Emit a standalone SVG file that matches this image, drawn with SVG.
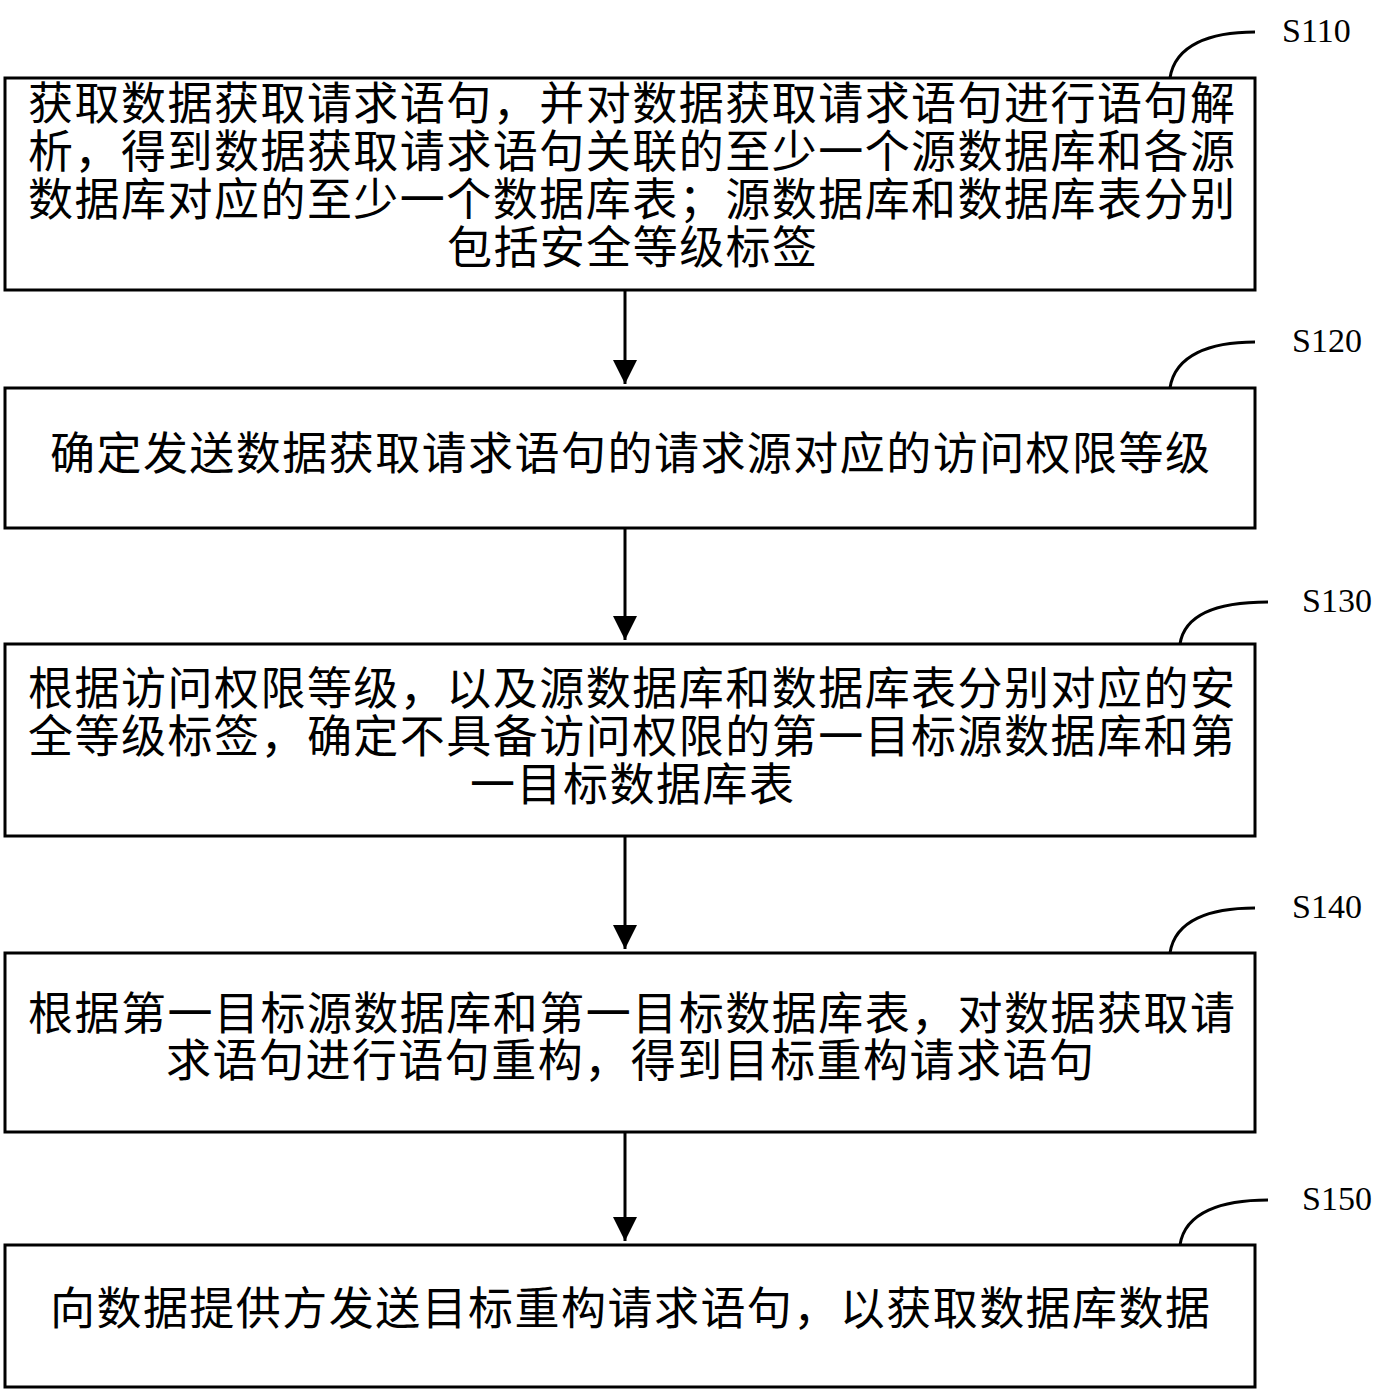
<svg xmlns="http://www.w3.org/2000/svg" width="1395" height="1391" viewBox="0 0 1395 1391">
<style>
.b{fill:#fff;stroke:#000;stroke-width:3}
.t{font-family:"Noto Sans CJK SC","Noto Sans",sans-serif;font-size:45px;fill:#000}
.m{text-anchor:middle}
.l{font-family:"Liberation Serif",serif;font-size:34px;fill:#000}
.c{fill:none;stroke:#000;stroke-width:3}
</style>
<defs>
<marker id="h" viewBox="0 0 10 10" markerWidth="24" markerHeight="30" refX="10" refY="5" orient="auto" markerUnits="userSpaceOnUse"><path d="M0,0 L10,5 L0,10 Z"/></marker></defs>
<g id="n1"><rect class="b" x="5" y="78" width="1250" height="212"/>
<text class="t" x="28" y="120" textLength="1207" lengthAdjust="spacing">获取数据获取请求语句，并对数据获取请求语句进行语句解</text>
<text class="t" x="28" y="168" textLength="1207" lengthAdjust="spacing">析，得到数据获取请求语句关联的至少一个源数据库和各源</text>
<text class="t" x="28" y="216" textLength="1207" lengthAdjust="spacing">数据库对应的至少一个数据库表；源数据库和数据库表分别</text>
<text class="t" x="447" y="264" textLength="370" lengthAdjust="spacing">包括安全等级标签</text></g>
<g id="n2"><rect class="b" x="5" y="388" width="1250" height="140"/>
<text class="t" x="50" y="470" textLength="1160" lengthAdjust="spacing">确定发送数据获取请求语句的请求源对应的访问权限等级</text></g>
<g id="n3"><rect class="b" x="5" y="644" width="1250" height="192"/>
<text class="t" x="28" y="705" textLength="1207" lengthAdjust="spacing">根据访问权限等级，以及源数据库和数据库表分别对应的安</text>
<text class="t" x="28" y="753" textLength="1207" lengthAdjust="spacing">全等级标签，确定不具备访问权限的第一目标源数据库和第</text>
<text class="t" x="470" y="801" textLength="324" lengthAdjust="spacing">一目标数据库表</text></g>
<g id="n4"><rect class="b" x="5" y="953" width="1250" height="179"/>
<text class="t" x="28" y="1030" textLength="1207" lengthAdjust="spacing">根据第一目标源数据库和第一目标数据库表，对数据获取请</text>
<text class="t" x="166" y="1077" textLength="928" lengthAdjust="spacing">求语句进行语句重构，得到目标重构请求语句</text></g>
<g id="n5"><rect class="b" x="5" y="1245" width="1250" height="142"/>
<text class="t" x="50" y="1325" textLength="1160" lengthAdjust="spacing">向数据提供方发送目标重构请求语句，以获取数据库数据</text></g>
<g id="labels">
<path class="c" d="M1170,78 C1175,45 1210,32 1255,32"/><text class="l" x="1282" y="42">S110</text>
<path class="c" d="M1170,388 C1175,355 1210,342 1255,342"/><text class="l" x="1292" y="352">S120</text>
<path class="c" d="M1180,644 C1185,612 1222,602 1268,602"/><text class="l" x="1302" y="612">S130</text>
<path class="c" d="M1170,953 C1175,920 1210,908 1255,908"/><text class="l" x="1292" y="918">S140</text>
<path class="c" d="M1180,1245 C1185,1212 1222,1200 1268,1200"/><text class="l" x="1302" y="1210">S150</text>
</g>
<g id="connectors" stroke="#000" stroke-width="3">
<line x1="625" y1="290" x2="625" y2="384" marker-end="url(#h)"/>
<line x1="625" y1="528" x2="625" y2="640" marker-end="url(#h)"/>
<line x1="625" y1="836" x2="625" y2="949" marker-end="url(#h)"/>
<line x1="625" y1="1132" x2="625" y2="1241" marker-end="url(#h)"/>
</g>
</svg>
